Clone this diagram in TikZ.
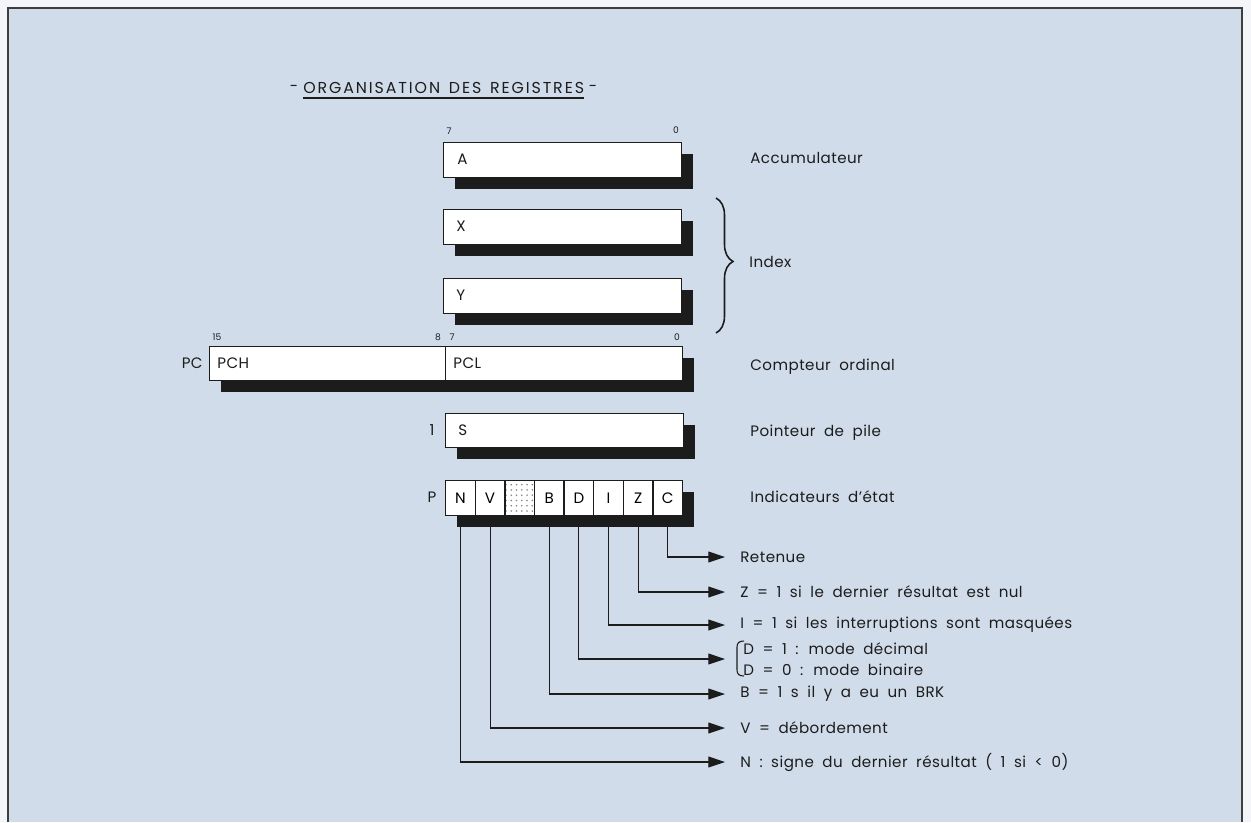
\documentclass[tikz,border=0pt]{standalone}
\usepackage{fontspec}
\setmainfont{Poppins}[LetterSpace=3, WordSpace=1.9]
\newfontfamily\titlefont{Poppins}[LetterSpace=12]
\usetikzlibrary{arrows.meta,calc,patterns,shadows,decorations.pathreplacing}
\definecolor{bg}{HTML}{D0DCEA}
\definecolor{paper}{HTML}{F3F5F8}
\definecolor{ink}{HTML}{1C1C1C}
\begin{document}
\begin{tikzpicture}[x=0.02cm,y=-0.02cm,
  reg/.style={draw=ink, fill=white, line width=0.8pt, inner sep=0pt, anchor=north west,
    minimum height=0.70cm,
    drop shadow={shadow xshift=0.23cm, shadow yshift=-0.23cm, opacity=1, fill=ink}},
  cell/.style={reg, minimum width=0.592cm},
  txt/.style={font=\fontsize{8.6}{10}\selectfont, text=ink, inner sep=0pt},
  lbl/.style={txt, anchor=west},
  bit/.style={font=\fontsize{5.2}{6}\selectfont, text=ink, inner sep=0pt},
  conn/.style={draw=ink, line width=0.6pt, -{Triangle[length=9.5pt,width=6.2pt]}}]
\useasboundingbox (0,0) rectangle (1251,822);
\fill[paper] (0,0) rectangle (1251,822);
\fill[bg] (8,8) rectangle (1242,822);
\draw[ink!85, line width=1.1pt] (8,822) -- (8,8) -- (1242,8) -- (1242,822);

% title
\node[txt, anchor=west, font=\fontsize{9}{10}\selectfont\titlefont] (title) at (303,88) {ORGANISATION\hspace{5pt}DES\hspace{5pt}REGISTRES};
\node[txt] (dl) at (294,88) {-};
\node[txt] (dr) at (593,88) {-};
\draw[ink, line width=0.8pt] ($(title.south west)+(0,4)$) -- ($(title.south east)+(0,4)$);

% A
\node[reg, minimum width=4.76cm] (A) at (443,142) {};
\node[lbl] (At) at (457,159) {A};
\node[bit] (A7) at (449,131) {7};
\node[bit] (A0) at (676,130) {0};
\node[lbl] (Al) at (750,158) {Accumulateur};

% X, Y
\node[reg, minimum width=4.76cm] (X) at (443,209) {};
\node[lbl] (Xt) at (456,226) {X};
\node[reg, minimum width=4.76cm] (Y) at (443,278) {};
\node[lbl] (Yt) at (456,295) {Y};
\draw[ink, line width=0.9pt, decorate, decoration={brace, amplitude=0.34cm, aspect=0.47}] (716,198) -- (716,333);
\node[lbl] (Il) at (749,262) {Index};

% PC
\node[reg, minimum width=4.72cm, minimum height=0.68cm] (PCH) at (209,346) {};
\node[reg, minimum width=4.74cm, minimum height=0.68cm] (PCL) at (445,346) {};
\node[lbl] (PCHt) at (217,363) {PCH};
\node[lbl] (PCLt) at (453,363) {PCL};
\node[txt, anchor=east] (PCn) at (203,363) {PC};
\node[bit] (b15) at (217,337) {15};
\node[bit] (b8) at (438,337) {8};
\node[bit] (b7) at (452,337) {7};
\node[bit] (b0) at (677,337) {0};
\node[lbl] (PCl) at (750,367) {Compteur ordinal};

% S
\node[reg, minimum width=4.76cm, minimum height=0.68cm] (S) at (445,413) {};
\node[lbl] (St) at (458,430) {S};
\node[txt] (Sn) at (432,430) {1};
\node[lbl] (Sl) at (750,433) {Pointeur de pile};

% P
\node[txt] (Pn) at (432,497) {P};
\node[cell, font=\fontsize{8.6}{10}\selectfont] (cN) at (445,480) {N};
\node[cell, font=\fontsize{8.6}{10}\selectfont] (cV) at (474.6,480) {V};
\node[cell, preaction={fill=white}, pattern=dots, pattern color=ink!55] (cX) at (504.2,480) {};
\node[cell, font=\fontsize{8.6}{10}\selectfont] (cB) at (533.8,480) {B};
\node[cell, font=\fontsize{8.6}{10}\selectfont] (cD) at (563.4,480) {D};
\node[cell, font=\fontsize{8.6}{10}\selectfont] (cI) at (593,480) {I};
\node[cell, font=\fontsize{8.6}{10}\selectfont] (cZ) at (622.6,480) {Z};
\node[cell, font=\fontsize{8.6}{10}\selectfont] (cC) at (652.2,480) {C};
\node[lbl] (Pl) at (750,497) {Indicateurs d'état};

% flag labels
\node[lbl] (lC) at (740,557) {Retenue};
\node[lbl] (lZ) at (740,592) {Z = 1 si le dernier résultat est nul};
\node[lbl] (lI) at (740,625) {I = 1 si les interruptions sont masquées};
\node[lbl, align=left, font=\fontsize{8.6}{12}\selectfont] (lD) at (743,659) {D = 1 : mode décimal\\D = 0 : mode binaire};
\node[lbl] (lB) at (740,694) {B = 1 s il y a eu un BRK};
\node[lbl] (lV) at (740,728) {V = débordement};
\node[lbl] (lN) at (740,762) {N : signe du dernier résultat ( 1 si < 0)};
\draw[ink, line width=0.6pt] (744,641) .. controls (739,641) and (737,643) .. (737,647) -- (737,670) .. controls (737,674) and (739,676) .. (744,676);

% connectors
\draw[conn] (cC.south) |- ($(lC.west)+(-15,0)$);
\draw[conn] (cZ.south) |- ($(lZ.west)+(-15,0)$);
\draw[conn] (cI.south) |- ($(lI.west)+(-15,0)$);
\draw[conn] (cD.south) |- ($(lD.west)+(-18,0)$);
\draw[conn] (cB.south) |- ($(lB.west)+(-15,0)$);
\draw[conn] (cV.south) |- ($(lV.west)+(-15,0)$);
\draw[conn] (cN.south) |- ($(lN.west)+(-15,0)$);
\end{tikzpicture}
\end{document}
